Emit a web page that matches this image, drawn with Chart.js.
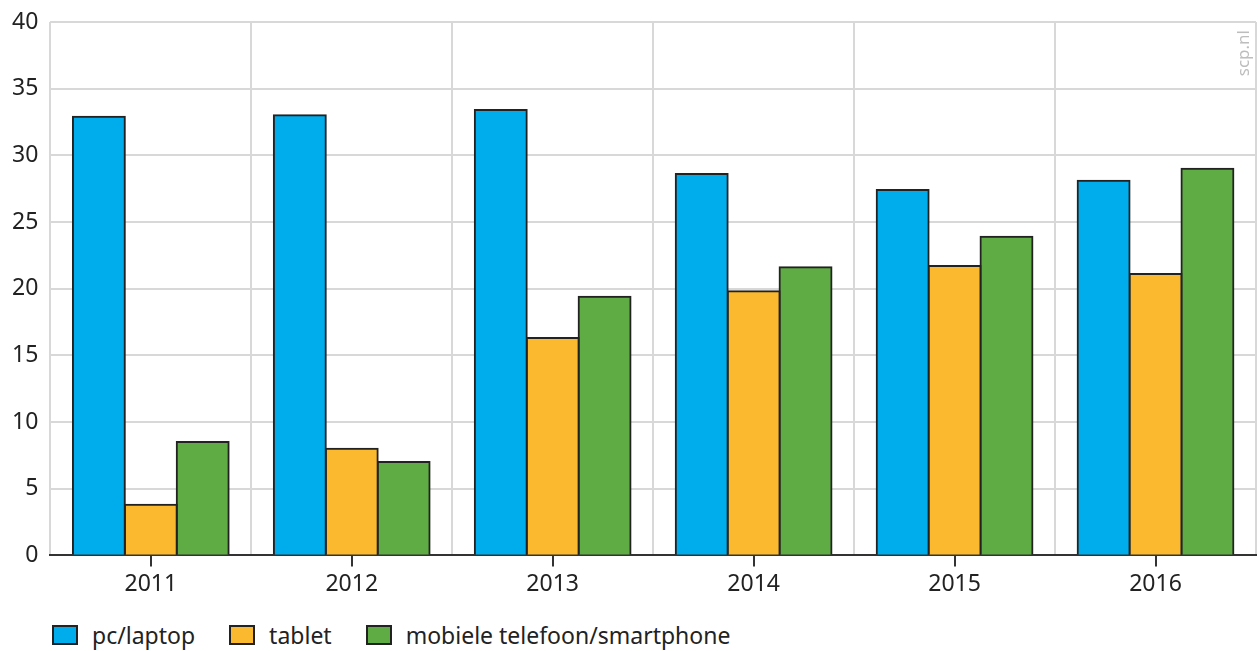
<!DOCTYPE html>
<html>
<head>
<meta charset="utf-8">
<script src="https://cdn.jsdelivr.net/npm/chart.js@4"></script>
<style>
  html, body { margin: 0; padding: 0; background: #fff; }
  #wrap { width: 1258px; height: 651px; position: relative; }
  #plot { position: absolute; left: 0; top: 0; width: 1258px; height: 619px; }
  #legend {
    position: absolute; left: 52px; top: 620px;
    display: flex; align-items: center;
    font-family: 'Noto Sans', sans-serif; font-size: 23px; color: #222;
    line-height: 30px;
  }
  .item { display: flex; align-items: center; margin-right: 34px; }
  .swatch { width: 22px; height: 16px; border: 2px solid #222; margin-right: 14px; }
</style>
</head>
<body>
<div id="wrap">
  <div id="plot"><canvas id="chart"></canvas></div>
  <div id="legend"></div>
</div>
<script>
const years = ["2011", "2012", "2013", "2014", "2015", "2016"];
const pcLaptop = [32.9, 33.0, 33.4, 28.6, 27.4, 28.1];
const tablet = [3.8, 8.0, 16.3, 19.8, 21.7, 21.1];
const smartphone = [8.5, 7.0, 19.4, 21.6, 23.9, 29.0];
const seriesNames = ["pc/laptop", "tablet", "mobiele telefoon/smartphone"];
const seriesColors = ["#00adec", "#fbb92f", "#5fab44"];

const FONT = "'Noto Sans', sans-serif";

// tick marks under the axis at category centers + the scp.nl credit
const extras = {
  id: "extras",
  afterDraw(chart) {
    const ctx = chart.ctx;
    const x = chart.scales.x;
    const area = chart.chartArea;
    ctx.save();
    ctx.strokeStyle = "#333";
    ctx.lineWidth = 2;
    years.forEach((y, i) => {
      const px = Math.round(x.getPixelForValue(i));
      ctx.beginPath();
      ctx.moveTo(px, area.bottom);
      ctx.lineTo(px, area.bottom + 11);
      ctx.stroke();
    });
    ctx.translate(area.right - 12, area.top + 8);
    ctx.rotate(-Math.PI / 2);
    ctx.fillStyle = "#bdbdbd";
    ctx.font = "17px " + FONT;
    ctx.textAlign = "right";
    ctx.textBaseline = "middle";
    ctx.fillText("scp.nl", 0, 0);
    ctx.restore();
  }
};

function buildDatasets() {
  return [pcLaptop, tablet, smartphone].map((vals, i) => ({
    label: seriesNames[i],
    data: vals,
    backgroundColor: seriesColors[i],
    borderColor: "#222",
    borderWidth: 2,
    borderSkipped: "bottom",
    inflateAmount: 1,
    barPercentage: 1.0,
    categoryPercentage: 0.775
  }));
}

function buildLegend(chart) {
  const box = document.getElementById("legend");
  chart.data.datasets.forEach(ds => {
    const item = document.createElement("div");
    item.className = "item";
    const sw = document.createElement("span");
    sw.className = "swatch";
    sw.style.background = ds.backgroundColor;
    const txt = document.createElement("span");
    txt.textContent = ds.label;
    item.appendChild(sw);
    item.appendChild(txt);
    box.appendChild(item);
  });
}

const chart = new Chart(document.getElementById("chart"), {
  type: "bar",
  data: { labels: years, datasets: buildDatasets() },
  options: {
    responsive: true,
    maintainAspectRatio: false,
    animation: false,
    layout: { padding: { left: 0, right: 2, top: 0, bottom: 6 } },
    plugins: {
      tooltip: { enabled: false },
      legend: { display: false }
    },
    scales: {
      x: {
        grid: { offset: true, color: "#d8d8d8", lineWidth: 2, drawTicks: false },
        border: { color: "#333", width: 2 },
        ticks: { color: "#222", font: { family: FONT, size: 23 }, padding: 15 }
      },
      y: {
        min: 0,
        max: 40,
        ticks: { stepSize: 5, color: "#222", font: { family: FONT, size: 23, lineHeight: 0.87 }, padding: 12 },
        grid: { color: "#d8d8d8", lineWidth: 2, drawTicks: false },
        border: { display: false }
      }
    }
  },
  plugins: [extras]
});
buildLegend(chart);
</script>
</body>
</html>
